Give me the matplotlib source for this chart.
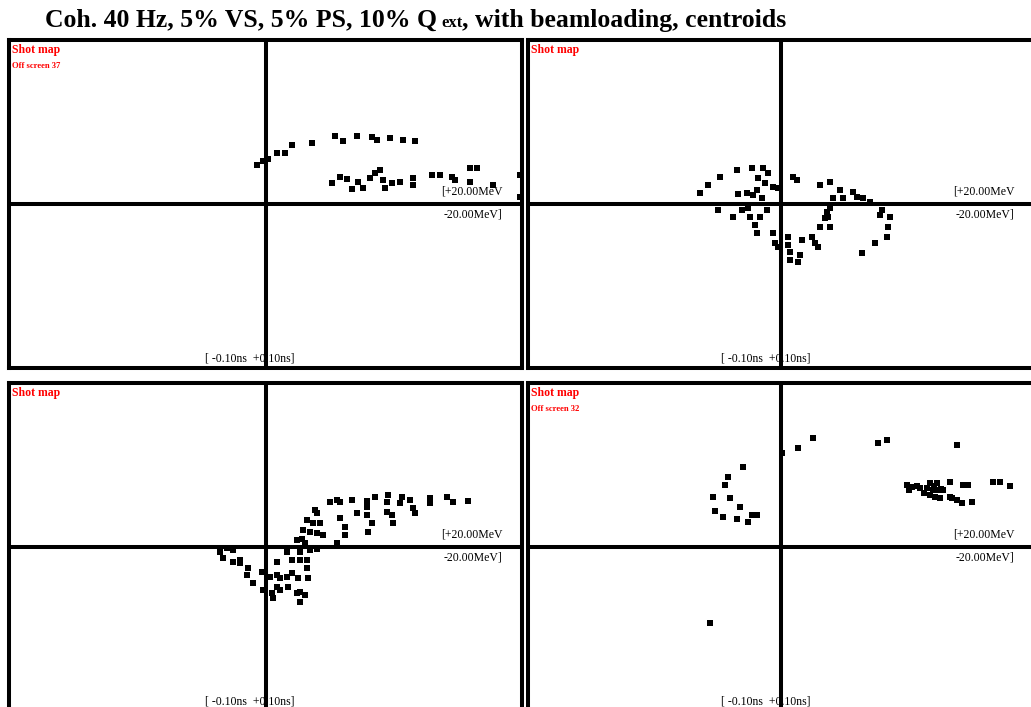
import matplotlib
matplotlib.use('Agg')
import matplotlib.pyplot as plt

# centroid shot positions: time offset (ns), energy offset (MeV)
tl_t = [-0.0033, -0.001, 0.001, 0.0045, 0.0076, 0.0103, 0.0181, 0.0271, 0.0302, 0.0357,
        0.0415, 0.0435, 0.0485, 0.0536, 0.0583, 0.0259, 0.029, 0.0318, 0.0337, 0.0361,
        0.038, 0.0407, 0.0427, 0.0446, 0.0458, 0.0466, 0.0493, 0.0524, 0.0575, 0.0575,
        0.0649, 0.068, 0.0727, 0.0739, 0.0797, 0.0825, 0.0797, 0.0887, 0.0992, 0.0992]
tl_e = [4.76, 5.24, 5.49, 6.22, 6.22, 7.2, 7.44, 8.29, 7.68, 8.29,
        8.17, 7.8, 8.05, 7.8, 7.68, 2.56, 3.29, 3.05, 1.83, 2.68,
        1.95, 3.17, 3.78, 4.15, 2.93, 1.95, 2.56, 2.68, 3.17, 2.32,
        3.54, 3.54, 3.29, 2.93, 4.39, 4.39, 2.68, 2.32, 3.54, 0.85]

tr_t = [-0.032, -0.0289, -0.0241, -0.0174, -0.0115, -0.0071, -0.0051, -0.0091, -0.0063, -0.0032,
        -0.0012, -0.017, -0.0134, -0.0111, -0.0075, -0.0095, 0.0047, 0.0063, 0.0154, 0.0194,
        0.0233, 0.0206, 0.0245, 0.0285, 0.03, 0.0324, 0.0352, -0.0249, -0.019, -0.0154,
        -0.013, -0.0123, -0.0083, -0.0055, -0.0103, -0.0095, -0.0032, -0.0024, -0.0012, 0.0028,
        0.0028, 0.0036, 0.0036, 0.0067, 0.0075, 0.0083, 0.0123, 0.0134, 0.0146, 0.0182,
        0.0194, 0.0154, 0.0194, 0.0399, 0.0391, 0.0431, 0.0423, 0.0419, 0.0372, 0.032,
        0.0186, 0.0174]
tr_e = [1.34, 2.32, 3.29, 4.15, 4.39, 4.39, 3.78, 3.17, 2.56, 2.07,
        1.95, 1.22, 1.34, 1.1, 0.73, 1.71, 3.29, 2.93, 2.32, 2.68,
        1.71, 0.73, 0.73, 1.46, 0.85, 0.73, 0.24, -0.73, -1.59, -0.73,
        -0.49, -1.59, -1.59, -0.73, -2.56, -3.54, -3.54, -4.76, -5.24, -4.02,
        -5.0, -5.85, -6.83, -7.07, -6.22, -4.39, -4.02, -4.76, -5.24, -0.98,
        -0.49, -2.8, -2.8, -0.73, -1.34, -1.59, -2.8, -4.02, -4.76, -5.98,
        -1.59, -1.71]

bl_t = [0.0251, 0.0279, 0.029, 0.0337, 0.0396, 0.0427, 0.0396, 0.0478, 0.0474, 0.0532,
        0.0524, 0.0563, 0.0575, 0.0583, 0.0641, 0.0641, 0.0708, 0.0731, 0.0789, 0.0193,
        0.0201, 0.0357, 0.0396, 0.0474, 0.0493, 0.029, 0.0162, 0.0185, 0.0212, 0.0415,
        0.0497, 0.0146, 0.0173, 0.0201, 0.0224, 0.031, 0.031, 0.04, 0.0123, 0.0142,
        0.0154, 0.0279, 0.0173, 0.0201, 0.0084, 0.0135, 0.0103, 0.0135, 0.0162, 0.0162,
        0.0045, -0.0177, -0.015, -0.0127, -0.0166, -0.0099, -0.0099, -0.0127, -0.0068, -0.0014,
        0.0018, 0.0045, 0.0057, 0.0084, 0.0103, 0.0127, 0.0166, -0.0072, -0.0049, -0.001,
        0.0045, 0.0057, 0.0088, 0.0123, 0.0135, 0.0154, 0.0135, 0.0025, 0.0029]
bl_e = [5.49, 5.73, 5.49, 5.73, 5.61, 6.1, 4.88, 6.34, 5.49, 6.1,
        5.37, 5.73, 4.76, 4.15, 5.98, 5.37, 6.1, 5.49, 5.61, 4.51,
        4.15, 4.15, 3.9, 4.27, 3.9, 3.54, 3.29, 2.93, 2.93, 2.93,
        2.93, 2.07, 1.83, 1.71, 1.46, 2.44, 1.46, 1.83, 0.85, 0.98,
        0.49, 0.49, -0.37, -0.24, -0.61, -0.61, -1.59, -1.59, -1.59, -2.56,
        -1.83, -0.61, -0.12, -0.37, -1.34, -1.59, -1.95, -1.83, -2.56, -3.05,
        -3.66, -3.41, -3.78, -3.66, -3.17, -3.78, -3.78, -3.41, -4.39, -5.24,
        -4.88, -5.24, -4.88, -5.61, -5.49, -5.85, -6.71, -5.61, -6.22]

br_t = [-0.015, -0.0209, -0.0221, -0.0269, -0.0202, -0.0162, -0.0261, -0.0229, -0.0174, -0.013,
        -0.0115, -0.0095, 0.0004, 0.0067, 0.0126, 0.0383, 0.0419, 0.0696, 0.0498, 0.0518,
        0.0538, 0.0549, 0.0577, 0.0589, 0.0601, 0.0617, 0.0621, 0.064, 0.0668, 0.0719,
        0.0739, 0.0838, 0.0866, 0.0905, 0.0589, 0.0609, 0.0628, 0.0668, 0.0676, 0.0696,
        0.0715, 0.0755, -0.0281, 0.0505, 0.0565, 0.0605, 0.0632]
br_e = [9.76, 8.54, 7.56, 6.1, 5.98, 4.88, 4.39, 3.66, 3.41, 3.05,
        3.9, 3.9, 11.46, 12.07, 13.29, 12.68, 13.05, 12.44, 7.56, 7.32,
        7.44, 7.2, 7.2, 7.8, 6.95, 7.8, 6.95, 6.95, 7.93, 7.56,
        7.56, 7.93, 7.93, 7.44, 6.34, 6.1, 5.98, 6.1, 5.98, 5.73,
        5.37, 5.49, -9.27, 6.9, 6.6, 7.4, 7.1]

off_screen = [37, None, None, 32]

plt.rcParams['font.family'] = ['Liberation Serif', 'DejaVu Serif']

W, H = 1031, 707
fig = plt.figure(figsize=(W / 100, H / 100), dpi=100)

# panel frames in pixels: left, top, width, height
frames = [(9, 40, 513, 328), (528, 40, 506, 328), (9, 383, 513, 328), (528, 383, 506, 328)]
data = [(tl_t, tl_e), (tr_t, tr_e), (bl_t, bl_e), (br_t, br_e)]

for (px, py, pw, ph), (t, e), off in zip(frames, data, off_screen):
    ax = fig.add_axes([px / W, 1 - (py + ph) / H, pw / W, ph / H])
    ax.set_xlim(-0.1, 0.1)
    ax.set_ylim(-20, 20)
    ax.set_xticks([])
    ax.set_yticks([])
    for sp in ax.spines.values():
        sp.set_linewidth(2.9)
        sp.set_color('black')
    ax.scatter(t, e, marker='s', s=13, c='black', linewidths=0, zorder=4, clip_on=False)
    ax.axvline(0, color='black', lw=2.9, zorder=5)
    ax.axhline(0, color='black', lw=2.9, zorder=5)

    ax.annotate('Shot map', xy=(0, 1), xycoords='axes fraction', xytext=(2, -3),
                textcoords='offset points', ha='left', va='top', fontsize=8.5,
                fontweight='bold', color='#ff0000')
    if off is not None:
        ax.annotate('Off screen %d' % off, xy=(0, 1), xycoords='axes fraction', xytext=(2, -16),
                    textcoords='offset points', ha='left', va='top', fontsize=6.2,
                    fontweight='bold', color='#ff0000')

    ax.annotate('[+20.00MeV', xy=(0.962, 0.5), xycoords='axes fraction', xytext=(0, 6.5),
                textcoords='offset points', ha='right', va='baseline', fontsize=8.5, zorder=3)
    ax.annotate('-20.00MeV]', xy=(0.962, 0.5), xycoords='axes fraction', xytext=(0, -9.5),
                textcoords='offset points', ha='right', va='baseline', fontsize=8.5, zorder=3)
    ax.annotate('[ -0.10ns  +0.10ns]', xy=(0.382, 0), xycoords='axes fraction', xytext=(0, 5),
                textcoords='offset points', ha='left', va='baseline', fontsize=8.5, zorder=3)

# title with small "ext" subscript-like piece
r = fig.canvas.get_renderer()
y0 = 1 - 27 / H
t1 = fig.text(45 / W, y0, 'Coh. 40 Hz, 5% VS, 5% PS, 10% Q', fontsize=18.5,
              fontweight='bold', va='baseline', ha='left')
bb = t1.get_window_extent(r)
t2 = fig.text((bb.x1 + 4) / W, y0, 'ext', fontsize=12, fontweight='bold', va='baseline', ha='left')
bb = t2.get_window_extent(r)
fig.text(bb.x1 / W, y0, ', with beamloading, centroids', fontsize=18.5,
         fontweight='bold', va='baseline', ha='left')

fig.savefig('out.png', dpi=100)
